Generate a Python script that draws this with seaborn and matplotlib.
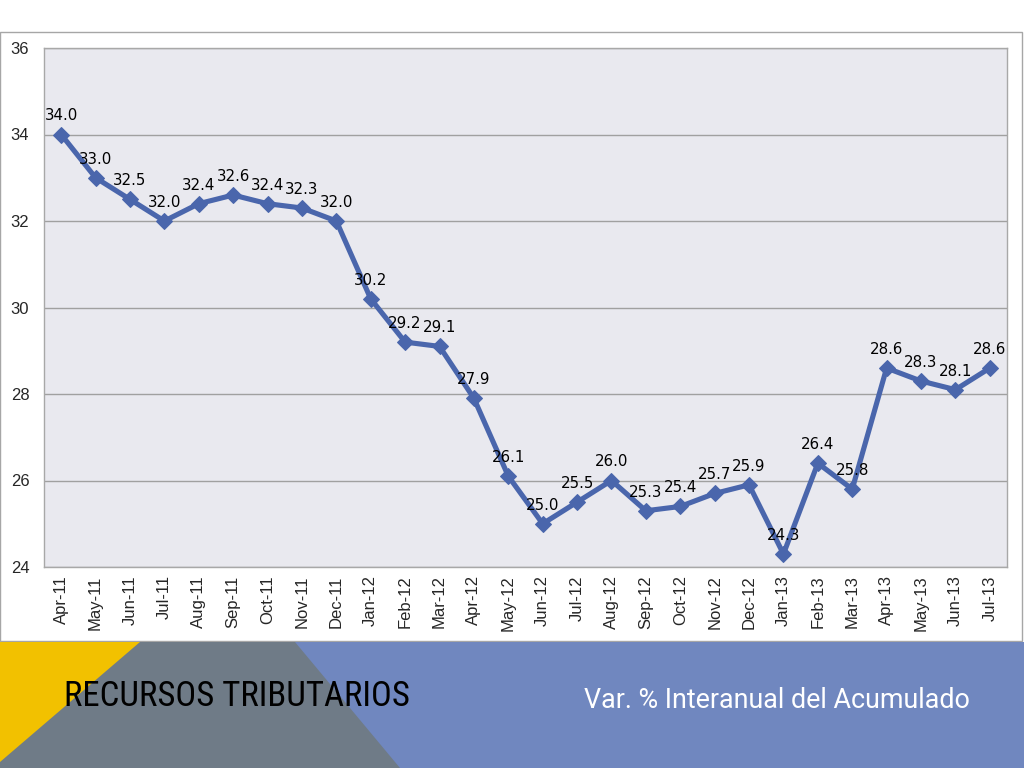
import matplotlib
matplotlib.use("Agg")
import matplotlib.pyplot as plt
import matplotlib.patches as mpatches
from matplotlib.font_manager import FontProperties
import seaborn as sns
import pandas as pd
from matplotlib import font_manager

months = ["Apr-11", "May-11", "Jun-11", "Jul-11", "Aug-11", "Sep-11", "Oct-11", "Nov-11",
          "Dec-11", "Jan-12", "Feb-12", "Mar-12", "Apr-12", "May-12", "Jun-12", "Jul-12",
          "Aug-12", "Sep-12", "Oct-12", "Nov-12", "Dec-12", "Jan-13", "Feb-13", "Mar-13",
          "Apr-13", "May-13", "Jun-13", "Jul-13"]
values = [34.0, 33.0, 32.5, 32.0, 32.4, 32.6, 32.4, 32.3, 32.0, 30.2, 29.2, 29.1, 27.9,
          26.1, 25.0, 25.5, 26.0, 25.3, 25.4, 25.7, 25.9, 24.3, 26.4, 25.8, 28.6, 28.3,
          28.1, 28.6]
y_ticks = [24, 26, 28, 30, 32, 34, 36]
title_left = "RECURSOS TRIBUTARIOS"
title_right = "Var. % Interanual del Acumulado"

sns.set_style("white")
plt.rcParams['font.family'] = ['Liberation Sans', 'DejaVu Sans']

# look for a condensed/narrow sans font for the left title
narrow_file = None
for f in font_manager.fontManager.ttflist:
    fn = f.fname.lower()
    if ("narrow" in fn or "condensed" in fn) and "mono" not in fn and "serif" not in fn \
            and "bold" not in fn and "oblique" not in fn and "italic" not in fn:
        narrow_file = f.fname
        if "liberation" in fn:
            break
if narrow_file:
    title_fp = FontProperties(fname=narrow_file, size=25)
else:
    title_fp = FontProperties(family="Roboto", size=22)

# regular-width DejaVu Sans for data labels
label_file = None
for f in font_manager.fontManager.ttflist:
    if f.fname.endswith("DejaVuSans.ttf"):
        label_file = f.fname
        break
if label_file:
    label_fp = FontProperties(fname=label_file, size=10.8)
else:
    label_fp = FontProperties(family="Open Sans", size=11)

df = pd.DataFrame({"month": months, "value": values})
df["idx"] = range(len(months))

fig = plt.figure(figsize=(10.24, 7.68), dpi=100)

# outer frame of chart
frame = mpatches.Rectangle((0.0, 1 - 641 / 768), 1022 / 1024, (641 - 32) / 768,
                           transform=fig.transFigure, facecolor="none",
                           edgecolor="#a6a6a6", linewidth=1.0, zorder=-1)
fig.patches.append(frame)

ax = fig.add_axes([44 / 1024, 1 - 567 / 768, 963 / 1024, (567 - 48) / 768])
ax.set_zorder(2)
ax.set_facecolor("#e9e9ef")

sns.lineplot(data=df, x="idx", y="value", ax=ax, color="#4a66ac", linewidth=3.7,
             marker="D", markersize=8.5, markeredgecolor="#4a66ac", zorder=3)

for i, v in enumerate(values):
    ax.annotate(f"{v:.1f}", (i, v), xytext=(0, 8), textcoords="offset points",
                ha="center", va="bottom", color="black", zorder=4,
                fontproperties=label_fp)

ax.set_xlim(-0.5, len(months) - 0.5)
ax.set_ylim(24, 36)
ax.set_yticks(y_ticks)
ax.set_yticklabels([str(t) for t in y_ticks], fontsize=12)
ax.set_xticks(range(len(months)))
ax.set_xticklabels(months, rotation=90, fontsize=12)
ax.tick_params(axis="y", length=0, pad=24)
ax.tick_params(axis="x", length=0, pad=6)
ax.set_xlabel("")
ax.set_ylabel("")
ax.grid(axis="y", color="#a0a0a0", linewidth=1.0)
ax.set_axisbelow(True)
for s in ["top", "left", "bottom", "right"]:
    ax.spines[s].set_visible(True)
    ax.spines[s].set_color("#a8a8a8")
    ax.spines[s].set_linewidth(1.0)
for lbl in ax.get_yticklabels():
    lbl.set_horizontalalignment("left")

# bottom banner
def fy(py):
    return 1 - py / 768

def fx(px):
    return px / 1024

banner_top = 642
blue = mpatches.Rectangle((0, 0), 1, fy(banner_top), transform=fig.transFigure,
                          facecolor="#7087bf", edgecolor="none", zorder=1)
grey = mpatches.Polygon([(fx(0), fy(banner_top)), (fx(295), fy(banner_top)),
                         (fx(400), fy(768)), (fx(0), fy(768))],
                        closed=True, transform=fig.transFigure,
                        facecolor="#6f7b87", edgecolor="none", zorder=2)
yellow = mpatches.Polygon([(fx(0), fy(banner_top)), (fx(140), fy(banner_top)),
                           (fx(0), fy(762))],
                          closed=True, transform=fig.transFigure,
                          facecolor="#f2c100", edgecolor="none", zorder=3)
for p in (blue, grey, yellow):
    fig.patches.append(p)

fig.text(fx(64), fy(697), title_left, color="black", ha="left",
         va="center", fontproperties=title_fp, zorder=5)
fig.text(fx(970), fy(700), title_right, fontsize=19.4, color="white", ha="right",
         va="center", family=['Roboto', 'DejaVu Sans'], zorder=5)

fig.savefig("out.png", dpi=100)
